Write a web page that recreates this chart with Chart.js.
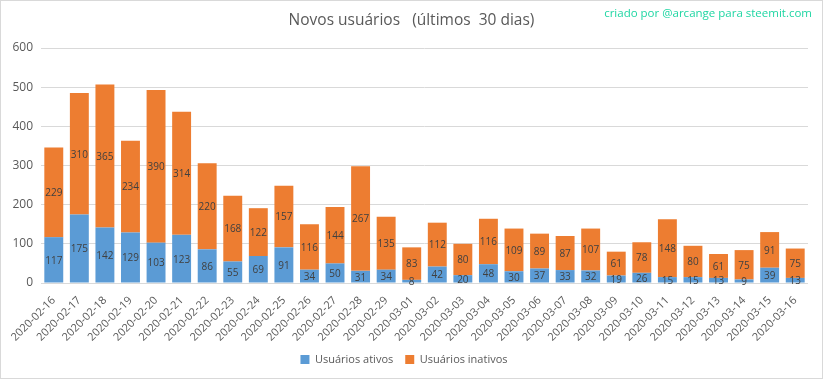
<!DOCTYPE html>
<html><head><meta charset="utf-8">
<script src="https://cdn.jsdelivr.net/npm/chart.js@4/dist/chart.umd.min.js"></script>
<style>html,body{margin:0;padding:0;background:#fff;}#wrap{width:823px;height:379px;position:relative;}</style>
</head><body><div id="wrap"><canvas id="c" width="823" height="379"></canvas></div>
<script>
const categories = ["2020-02-16","2020-02-17","2020-02-18","2020-02-19","2020-02-20","2020-02-21","2020-02-22","2020-02-23","2020-02-24","2020-02-25","2020-02-26","2020-02-27","2020-02-28","2020-02-29","2020-03-01","2020-03-02","2020-03-03","2020-03-04","2020-03-05","2020-03-06","2020-03-07","2020-03-08","2020-03-09","2020-03-10","2020-03-11","2020-03-12","2020-03-13","2020-03-14","2020-03-15","2020-03-16"];
const ativos = [117,175,142,129,103,123,86,55,69,91,34,50,31,34,8,42,20,48,30,37,33,32,19,26,15,15,13,9,39,13];
const inativos = [229,310,365,234,390,314,220,168,122,157,116,144,267,135,83,112,80,116,109,89,87,107,61,78,148,80,61,75,91,75];
const yTicks = [0,100,200,300,400,500,600];
const titleText = "Novos usuários   (últimos  30 dias)";
const creditText = "criado por @arcange para steemit.com";

const FONT = "'Open Sans', 'Noto Sans', sans-serif";
const GREY = "#595959";

const labelPlugin = {
  id: 'valueLabels',
  afterDatasetsDraw(chart) {
    const ctx = chart.ctx;
    ctx.save();
    ctx.font = "10px " + FONT;
    ctx.fillStyle = "#404040";
    ctx.textAlign = "center";
    ctx.textBaseline = "middle";
    chart.data.datasets.forEach((ds, i) => {
      const meta = chart.getDatasetMeta(i);
      meta.data.forEach((el, j) => {
        const p = el.getProps(['x','y','base'], true);
        ctx.fillText(String(ds.data[j]), p.x, (p.y + p.base) / 2 + 1);
      });
    });
    ctx.restore();
  }
};
const decoPlugin = {
  id: 'deco',
  afterDraw(chart) {
    const ctx = chart.ctx;
    ctx.save();
    ctx.textBaseline = "middle";
    ctx.font = "15.5px " + FONT;
    ctx.fillStyle = GREY;
    ctx.textAlign = "center";
    ctx.fillText(titleText, 411.5, 21);
    ctx.font = "11.5px " + FONT;
    ctx.fillStyle = "#1fd6a3";
    ctx.textAlign = "right";
    ctx.fillText(creditText, 812, 14);
    ctx.strokeStyle = "#d9d9d9";
    ctx.lineWidth = 1;
    ctx.strokeRect(0.5, 0.5, 822, 378);
    ctx.restore();
  }
};

new Chart(document.getElementById('c'), {
  type: 'bar',
  data: {
    labels: categories,
    datasets: [
      { label: 'Usuários ativos', data: ativos, backgroundColor: '#5b9bd5', barPercentage: 0.74, categoryPercentage: 1 },
      { label: 'Usuários inativos', data: inativos, backgroundColor: '#ed7d31', barPercentage: 0.74, categoryPercentage: 1 }
    ]
  },
  options: {
    responsive: false,
    animation: false,
    layout: { padding: { left: 0, right: 15, top: 48, bottom: 4 } },
    plugins: {
      title: { display: false },
      legend: { position: 'bottom', labels: { color: GREY, font: { family: FONT, size: 11 }, boxWidth: 9, boxHeight: 9, padding: 12 } },
      tooltip: { enabled: false }
    },
    scales: {
      x: {
        stacked: true,
        grid: { display: false },
        border: { display: false },
        ticks: { color: GREY, font: { family: FONT, size: 11 }, autoSkip: false, minRotation: 45, maxRotation: 45, padding: 3 },
        afterFit(s) { s.height = 59; }
      },
      y: {
        stacked: true,
        min: 0, max: 600,
        afterBuildTicks(s) { s.ticks = yTicks.map(v => ({ value: v })); },
        grid: { color: '#d9d9d9', drawTicks: false },
        border: { display: false },
        ticks: { color: GREY, font: { family: FONT, size: 12 }, padding: 8 },
        afterFit(s) { s.width = 41; }
      }
    }
  },
  plugins: [labelPlugin, decoPlugin]
});
</script></body></html>
